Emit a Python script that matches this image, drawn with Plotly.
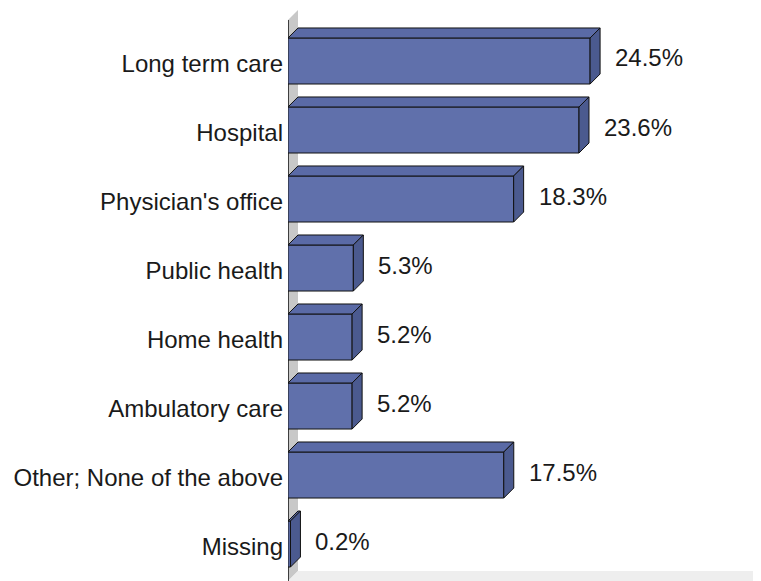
import plotly.graph_objects as go

categories = ["Long term care", "Hospital", "Physician's office", "Public health",
              "Home health", "Ambulatory care", "Other; None of the above", "Missing"]
values = [24.5, 23.6, 18.3, 5.3, 5.2, 5.2, 17.5, 0.2]
value_labels = ["24.5%", "23.6%", "18.3%", "5.3%", "5.2%", "5.2%", "17.5%", "0.2%"]

FRONT = "#6070AB"
SIDE = "#4B5A8F"
TOP = "#5A6AA6"
WALL = "#C8C8C8"
FLOOR = "#EEEEEE"

positions = list(range(len(categories)))
bar_w = 0.667
dx = 0.81      # depth offset in x data units
dy = 0.145     # depth offset in y data units (upwards)
x_max = 38.36
y_top = -0.768
y_bot = 7.536

fig = go.Figure()
fig.add_trace(go.Bar(
    x=values, y=positions, orientation="h", width=bar_w,
    marker=dict(color=FRONT, line=dict(color="#111111", width=1)),
    hoverinfo="skip", showlegend=False,
))

shapes = []
wall_front_top = -0.594
shapes.append(dict(type="path", xref="x", yref="y", layer="below",
                   path=f"M 0 {y_bot} L 0 {wall_front_top} L {dx} {wall_front_top - dy} L {dx} {y_bot - dy} Z",
                   fillcolor=WALL, line=dict(width=0)))
shapes.append(dict(type="path", xref="x", yref="y", layer="below",
                   path=f"M 0 {y_bot} L {dx} {y_bot - dy} L {x_max} {y_bot - dy} L {x_max} {y_bot} Z",
                   fillcolor=FLOOR, line=dict(width=0)))
shapes.append(dict(type="line", xref="x", yref="y", layer="below",
                   x0=0, x1=0, y0=wall_front_top, y1=y_bot,
                   line=dict(color="#111111", width=1.5)))

for p, v in zip(positions, values):
    t = p - bar_w / 2
    b = p + bar_w / 2
    shapes.append(dict(type="path", xref="x", yref="y", layer="above",
                       path=f"M 0 {t} L {v} {t} L {v + dx} {t - dy} L {dx} {t - dy} Z",
                       fillcolor=TOP, line=dict(color="#111111", width=1)))
    shapes.append(dict(type="path", xref="x", yref="y", layer="above",
                       path=f"M {v} {t} L {v + dx} {t - dy} L {v + dx} {b - dy} L {v} {b} Z",
                       fillcolor=SIDE, line=dict(color="#111111", width=1)))

annotations = []
for p, v, lab in zip(positions, values, value_labels):
    annotations.append(dict(x=v + dx, y=p, xref="x", yref="y", text=lab,
                            showarrow=False, xanchor="left", yanchor="middle",
                            xshift=13, yshift=3,
                            font=dict(family="Liberation Sans, Arial", size=24, color="#1a1a1a")))

fig.update_layout(
    width=753, height=573,
    margin=dict(l=280, r=0, t=0, b=0),
    paper_bgcolor="white", plot_bgcolor="white",
    shapes=shapes, annotations=annotations,
    xaxis=dict(range=[0, x_max], visible=False, fixedrange=True),
    yaxis=dict(range=[y_bot, y_top], tickvals=positions, ticktext=categories,
               showgrid=False, zeroline=False, showline=False, ticks="",
               ticklabelstandoff=4, ticklabelshift=-3,
               tickfont=dict(family="Liberation Sans, Arial", size=24, color="#1a1a1a")),
    bargap=0.33,
)

fig.write_html("out.html")
